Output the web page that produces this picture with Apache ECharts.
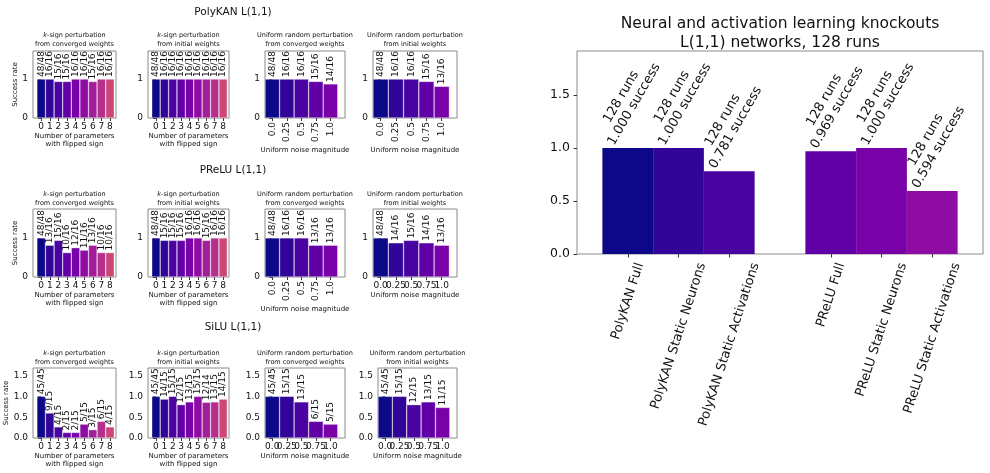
<!DOCTYPE html>
<html><head><meta charset="utf-8">
<script src="https://cdn.jsdelivr.net/npm/echarts@6/dist/echarts.min.js"></script>
<style>html,body{margin:0;padding:0;background:#fff}#c{width:990px;height:473px}</style>
</head><body><div id="c"></div>
<script>
// ---------------- data ----------------
const rowTitles = ['PolyKAN L(1,1)', 'PReLU L(1,1)', 'SiLU L(1,1)'];
const flipTicks = ['0', '1', '2', '3', '4', '5', '6', '7', '8'];
const noiseTicks = ['0.0', '0.25', '0.5', '0.75', '1.0'];
const flipAxisName = 'Number of parameters\nwith flipped sign';
const noiseAxisName = 'Uniform noise magnitude';
const yAxisName = 'Success rate';

// PolyKAN
const polyFlipConvSucc = [48, 16, 15, 15, 16, 16, 15, 16, 16];
const polyFlipConvRuns = [48, 16, 16, 16, 16, 16, 16, 16, 16];
const polyFlipInitSucc = [48, 16, 16, 16, 16, 16, 16, 16, 16];
const polyFlipInitRuns = [48, 16, 16, 16, 16, 16, 16, 16, 16];
const polyNoiseConvSucc = [48, 16, 16, 15, 14];
const polyNoiseConvRuns = [48, 16, 16, 16, 16];
const polyNoiseInitSucc = [48, 16, 16, 15, 13];
const polyNoiseInitRuns = [48, 16, 16, 16, 16];
// PReLU
const preluFlipConvSucc = [48, 13, 15, 10, 12, 11, 13, 10, 10];
const preluFlipConvRuns = [48, 16, 16, 16, 16, 16, 16, 16, 16];
const preluFlipInitSucc = [48, 15, 15, 15, 16, 16, 15, 16, 16];
const preluFlipInitRuns = [48, 16, 16, 16, 16, 16, 16, 16, 16];
const preluNoiseConvSucc = [48, 16, 16, 13, 13];
const preluNoiseConvRuns = [48, 16, 16, 16, 16];
const preluNoiseInitSucc = [48, 14, 15, 14, 13];
const preluNoiseInitRuns = [48, 16, 16, 16, 16];
// SiLU
const siluFlipConvSucc = [45, 9, 4, 2, 2, 5, 3, 6, 4];
const siluFlipConvRuns = [45, 15, 15, 15, 15, 15, 15, 15, 15];
const siluFlipInitSucc = [45, 14, 15, 12, 13, 15, 12, 13, 14];
const siluFlipInitRuns = [45, 15, 15, 15, 15, 15, 14, 15, 15];
const siluNoiseConvSucc = [45, 15, 13, 6, 5];
const siluNoiseConvRuns = [45, 15, 15, 15, 15];
const siluNoiseInitSucc = [45, 15, 12, 13, 11];
const siluNoiseInitRuns = [45, 15, 15, 15, 15];

// Knockout chart
const knockoutCats = ['PolyKAN Full', 'PolyKAN Static Neurons', 'PolyKAN Static Activations',
                      'PReLU Full', 'PReLU Static Neurons', 'PReLU Static Activations'];
const knockoutRate = [1.000, 1.000, 0.781, 0.969, 1.000, 0.594];
const knockoutRuns = [128, 128, 128, 128, 128, 128];
const knockoutTitle = 'Neural and activation learning knockouts\nL(1,1) networks, 128 runs';

// ---------------- styles / layout ----------------
const FONT = 'DejaVu Sans';
const TXT = '#111';
const BORDER = '#8a8a8a';
const plasma16 = ['#0d0887', '#310597', '#4903a0', '#6100a7', '#7801a8', '#8e0ca4', '#a21d9a', '#b52f8c', '#cc4778'];

const panels = [
  [['flip', 'from converged weights', polyFlipConvSucc, polyFlipConvRuns],
   ['flip', 'from initial weights', polyFlipInitSucc, polyFlipInitRuns],
   ['noise', 'from converged weights', polyNoiseConvSucc, polyNoiseConvRuns],
   ['noise', 'from initial weights', polyNoiseInitSucc, polyNoiseInitRuns]],
  [['flip', 'from converged weights', preluFlipConvSucc, preluFlipConvRuns],
   ['flip', 'from initial weights', preluFlipInitSucc, preluFlipInitRuns],
   ['noise', 'from converged weights', preluNoiseConvSucc, preluNoiseConvRuns],
   ['noise', 'from initial weights', preluNoiseInitSucc, preluNoiseInitRuns]],
  [['flip', 'from converged weights', siluFlipConvSucc, siluFlipConvRuns],
   ['flip', 'from initial weights', siluFlipInitSucc, siluFlipInitRuns],
   ['noise', 'from converged weights', siluNoiseConvSucc, siluNoiseConvRuns],
   ['noise', 'from initial weights', siluNoiseInitSucc, siluNoiseInitRuns]]
];
const colX = [[33, 148, 265, 373], [33, 148, 265, 373], [33, 148, 265, 378]];
const colW = [[83, 81, 80, 84], [83, 81, 80, 84], [83, 81, 80, 79]];
const rowTop = [51, 209, 368];
const rowH = [67, 68, 70];
const rowYMax = [1.72, 1.74, 1.68];
const supTop = [5.5, 163.5, 320.5];
const subTop = [30.5, 189.5, 348.5];
const noiseRotate = [[90, 90], [90, 0], [0, 0]];

const option = { animation: false, backgroundColor: '#fff', title: [], grid: [], xAxis: [], yAxis: [], series: [] };

let gi = 0;
panels.forEach((row, r) => {
  option.title.push({
    text: rowTitles[r], left: 233, top: supTop[r], textAlign: 'center', padding: 0,
    textStyle: { fontFamily: FONT, fontSize: 10.5, fontWeight: 'normal', color: TXT, lineHeight: 13 }
  });
  row.forEach((p, c) => {
    const [kind, sub, succ, runs] = p;
    const isFlip = kind === 'flip';
    const ticks = isFlip ? flipTicks : noiseTicks;
    const left = colX[r][c], width = colW[r][c], top = rowTop[r], height = rowH[r];
    const rot = isFlip ? 0 : noiseRotate[r][c - 2];
    const xMin = isFlip ? -0.95 : -0.5, xMax = isFlip ? 8.7 : 5;
    // hidden sentinel ticks at both ends so every real label is kept
    const tickVals = [xMin].concat(ticks.map((t, i) => i), [xMax]);
    const yTicks = r === 2 ? [0, 0.5, 1, 1.5] : [0, 1];
    const rs = { fontFamily: FONT, fontSize: 6.5, lineHeight: 9, color: TXT };
    option.title.push({
      text: (isFlip ? '{i|k}{n|-sign perturbation}' : '{n|Uniform random perturbation}') + '\n{n|' + sub + '}',
      left: left + width / 2, top: subTop[r], textAlign: 'center', padding: 0,
      textStyle: Object.assign({ fontWeight: 'normal', rich: { i: Object.assign({ fontStyle: 'italic' }, rs), n: rs } }, rs)
    });
    option.grid.push({ left, top, width, height, show: true, borderColor: BORDER, borderWidth: 1, outerBoundsMode: 'none', containLabel: false });
    option.xAxis.push({
      type: 'value', gridIndex: gi, min: xMin, max: xMax,
      axisLine: { show: false }, splitLine: { show: false },
      axisTick: { show: true, length: 3, customValues: tickVals, lineStyle: { color: '#333' } },
      axisLabel: {
        customValues: tickVals,
        formatter: v => (Math.abs(v - Math.round(v)) < 1e-6 && ticks[Math.round(v)] !== undefined && v > xMin && v < xMax) ? ticks[Math.round(v)] : '',
        fontFamily: FONT, fontSize: 9,
        color: TXT, margin: 4, rotate: rot, hideOverlap: false, showMinLabel: false, showMaxLabel: false
      },
      name: isFlip ? flipAxisName : noiseAxisName, nameLocation: 'middle',
      nameGap: isFlip ? 13.5 : (rot ? 24.5 : 12.5),
      nameTextStyle: { fontFamily: FONT, fontSize: 7, lineHeight: 8.5, color: TXT }
    });
    option.yAxis.push({
      type: 'value', gridIndex: gi, min: 0, max: rowYMax[r],
      axisLine: { show: false }, splitLine: { show: false },
      axisTick: { show: true, length: 3, customValues: yTicks, lineStyle: { color: '#333' } },
      axisLabel: {
        customValues: yTicks, formatter: v => r === 2 ? v.toFixed(1) : String(Math.round(v)),
        fontFamily: FONT, fontSize: 9, color: TXT, margin: 5, showMinLabel: true, showMaxLabel: true
      },
      name: c === 0 ? yAxisName : '', nameLocation: 'middle', nameRotate: 90,
      nameGap: r === 2 ? 17 : 7.5,
      nameTextStyle: { fontFamily: FONT, fontSize: 7, color: TXT }
    });
    option.series.push({
      type: 'bar', xAxisIndex: gi, yAxisIndex: gi, barWidth: '100%',
      data: succ.map((s, i) => ({ value: [i, s / runs[i]], itemStyle: { color: plasma16[i] } })),
      itemStyle: { borderColor: 'rgba(255,255,255,0.7)', borderWidth: 0.5 },
      label: {
        show: true, position: 'top', rotate: 90, align: 'left', verticalAlign: 'middle', distance: 2,
        fontFamily: FONT, fontSize: 9, color: TXT,
        formatter: prm => succ[prm.dataIndex] + '/' + runs[prm.dataIndex]
      }
    });
    gi++;
  });
});

// ---------- knockout chart ----------
const ctx = document.createElement('canvas').getContext('2d');
const XL_FS = 13, XL_LH = 15, XL_ROT = 72;
ctx.font = XL_FS + 'px "' + FONT + '"';
const th = XL_ROT * Math.PI / 180;
const xRich = {};
knockoutCats.forEach((cat, k) => {
  const w = ctx.measureText(cat).width;
  xRich['c' + k] = {
    fontFamily: FONT, fontSize: XL_FS, lineHeight: XL_LH, color: TXT,
    padding: [w * Math.sin(th) * Math.cos(th), w * Math.sin(th) * Math.sin(th), 0, 0]
  };
});
// spacers separate the two model groups
const axisCats = [''].concat(knockoutCats.slice(0, 3), [''], knockoutCats.slice(3), ['']);
const barData = axisCats.map(cat => {
  const k = knockoutCats.indexOf(cat);
  if (k < 0) return '-';
  return { value: knockoutRate[k], itemStyle: { color: plasma16[k] } };
});
ctx.font = '13px "' + FONT + '"';
const blW = ctx.measureText('1.000 success').width;
const blDist = (blW * Math.sin(Math.PI / 3) + 2 * 15 * Math.cos(Math.PI / 3)) / 2;

option.title.push({
  text: knockoutTitle, left: 780, top: 14, textAlign: 'center', padding: 0,
  textStyle: { fontFamily: FONT, fontSize: 15.5, lineHeight: 19, fontWeight: 'normal', color: TXT }
});
option.grid.push({ left: 577, top: 51, width: 406, height: 203, show: true, borderColor: BORDER, borderWidth: 1, outerBoundsMode: 'none', containLabel: false });
option.xAxis.push({
  type: 'category', gridIndex: gi, data: axisCats, boundaryGap: false,
  axisLine: { show: false }, splitLine: { show: false },
  axisTick: { show: true, length: 3.5, interval: (i, v) => v !== '', lineStyle: { color: '#333' } },
  axisLabel: {
    interval: 0, rotate: XL_ROT, align: 'center', verticalAlign: 'middle', margin: 9.3,
    hideOverlap: false,
    formatter: v => { const k = knockoutCats.indexOf(v); return k < 0 ? '' : '{c' + k + '|' + v + '}'; },
    rich: xRich, fontFamily: FONT, fontSize: XL_FS, color: TXT
  }
});
option.yAxis.push({
  type: 'value', gridIndex: gi, min: 0, max: 1.915,
  axisLine: { show: false }, splitLine: { show: false },
  axisTick: { show: true, length: 3.5, customValues: [0, 0.5, 1, 1.5], lineStyle: { color: '#333' } },
  axisLabel: { customValues: [0, 0.5, 1, 1.5], formatter: v => v.toFixed(1), fontFamily: FONT, fontSize: 12.5, color: TXT, margin: 7, showMinLabel: true, showMaxLabel: true }
});
option.series.push({
  type: 'bar', xAxisIndex: gi, yAxisIndex: gi, barWidth: '100%', data: barData,
  label: {
    show: true, position: 'top', distance: blDist, rotate: 60, align: 'center', verticalAlign: 'middle',
    fontFamily: FONT, fontSize: 13, lineHeight: 15, color: TXT,
    formatter: prm => { const k = knockoutCats.indexOf(prm.name); return knockoutRuns[k] + ' runs\n' + knockoutRate[k].toFixed(3) + ' success'; }
  }
});

const chart = echarts.init(document.getElementById('c'), null, { renderer: 'canvas' });
chart.setOption(option);
</script>
</body></html>
